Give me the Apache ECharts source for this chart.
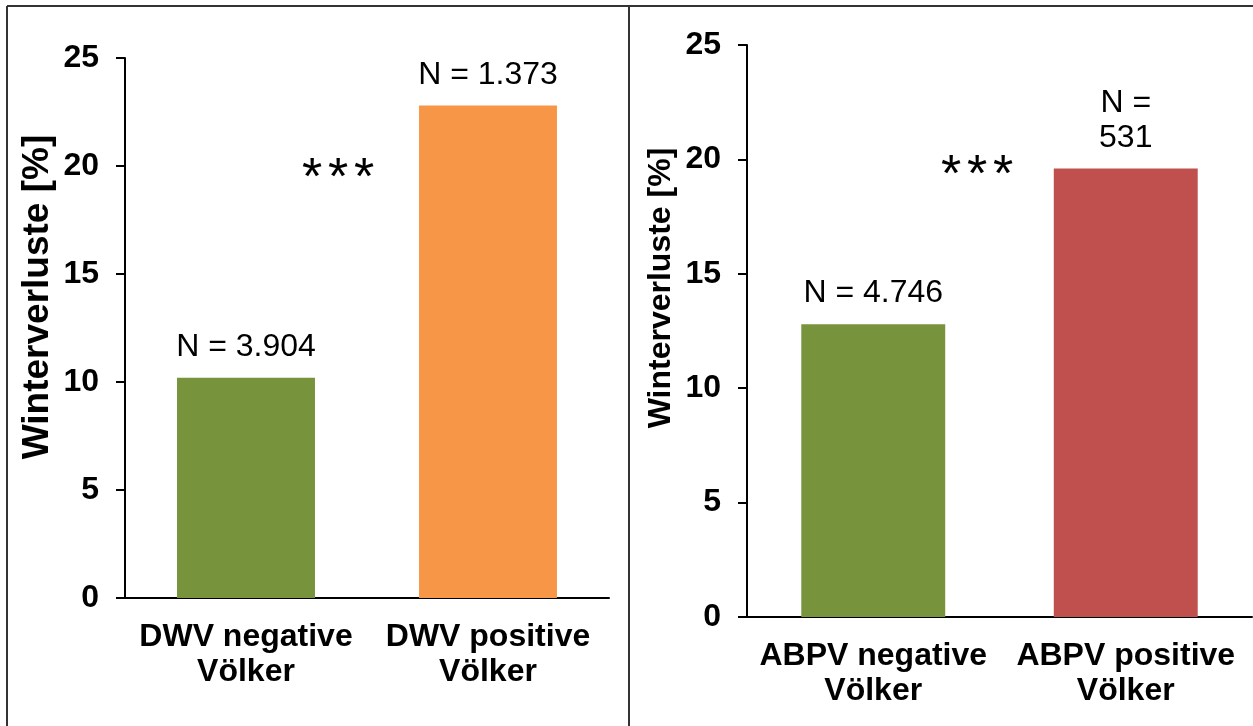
<!DOCTYPE html>
<html>
<head>
<meta charset="utf-8">
<script src="https://cdn.jsdelivr.net/npm/echarts@6/dist/echarts.min.js"></script>
<style>
html,body{margin:0;padding:0;background:#fff;}
#c{width:1253px;height:726px;}
</style>
</head>
<body>
<div id="c"></div>
<script>
// ---- data ----
const catsLeft = ['DWV negative\nVölker', 'DWV positive\nVölker'];
const valsLeft = [10.2, 22.8];
const nLeft = ['N = 3.904', 'N = 1.373'];
const colorsLeft = ['#77933C', '#F79646'];

const catsRight = ['ABPV negative\nVölker', 'ABPV positive\nVölker'];
const valsRight = [12.8, 19.6];
const nRight = ['N = 4.746', 'N =\n531'];
const colorsRight = ['#77933C', '#C0504D'];

const yTicks = [0, 5, 10, 15, 20, 25];
const yName = 'Winterverluste [%]';
const signif = ['*', '*', '*'];

const FONT = '"Liberation Sans", Arial, sans-serif';
const FS = 32;

function yAxisCfg(gridIndex) {
  return {
    type: 'value', gridIndex: gridIndex,
    min: yTicks[0], max: yTicks[yTicks.length - 1], interval: yTicks[1] - yTicks[0],
    axisLine: {show: true, lineStyle: {color: '#000', width: 2}},
    axisTick: {show: true, inside: false, length: 9, lineStyle: {color: '#000', width: 2}},
    axisLabel: {color: '#000', fontFamily: FONT, fontSize: FS, fontWeight: 'bold', margin: 26},
    splitLine: {show: false}
  };
}
function xAxisCfg(gridIndex, cats) {
  return {
    type: 'category', gridIndex: gridIndex, data: cats,
    axisLine: {show: true, lineStyle: {color: '#000', width: 2}},
    axisTick: {show: false},
    axisLabel: {color: '#000', fontFamily: FONT, fontSize: FS, fontWeight: 'bold', lineHeight: 35, margin: 22, interval: 0}
  };
}
function barSeries(idx, vals, colors, labels) {
  return {
    type: 'bar', xAxisIndex: idx, yAxisIndex: idx, barWidth: '57%',
    data: vals.map((v, i) => ({value: v, itemStyle: {color: colors[i]}})),
    label: {
      show: true, position: 'top', distance: 13, color: '#000',
      fontFamily: FONT, fontSize: FS, lineHeight: 35,
      formatter: p => labels[p.dataIndex]
    }
  };
}
function stars(cx, cy) {
  return signif.map((s, i) => ({
    type: 'text', x: cx + (i - 1) * 26, y: cy,
    style: {text: s, fill: '#000', font: '52px ' + FONT, align: 'center', verticalAlign: 'middle'}
  }));
}

const chart = echarts.init(document.getElementById('c'), null, {renderer: 'canvas'});
chart.setOption({
  backgroundColor: '#fff',
  animation: false,
  grid: [
    {left: 125, right: 644, top: 58, bottom: 128},
    {left: 747, right: 1, top: 45, bottom: 109}
  ],
  xAxis: [xAxisCfg(0, catsLeft), xAxisCfg(1, catsRight)],
  yAxis: [yAxisCfg(0), yAxisCfg(1)],
  series: [
    barSeries(0, valsLeft, colorsLeft, nLeft),
    barSeries(1, valsRight, colorsRight, nRight)
  ],
  graphic: [
    {type: 'line', shape: {x1: 7, y1: 6, x2: 1253, y2: 6}, style: {stroke: '#333', lineWidth: 2}},
    {type: 'line', shape: {x1: 7, y1: 6, x2: 7, y2: 726}, style: {stroke: '#333', lineWidth: 2}},
    {type: 'line', shape: {x1: 629, y1: 6, x2: 629, y2: 726}, style: {stroke: '#333', lineWidth: 2}},
    {type: 'text', x: 38, y: 297, rotation: Math.PI / 2,
     style: {text: yName, fill: '#000', font: 'bold 37px ' + FONT, align: 'center', verticalAlign: 'middle'}},
    {type: 'text', x: 661, y: 288, rotation: Math.PI / 2,
     style: {text: yName, fill: '#000', font: 'bold 32px ' + FONT, align: 'center', verticalAlign: 'middle'}}
  ].concat(stars(338, 180), stars(977, 177))
});
</script>
</body>
</html>
